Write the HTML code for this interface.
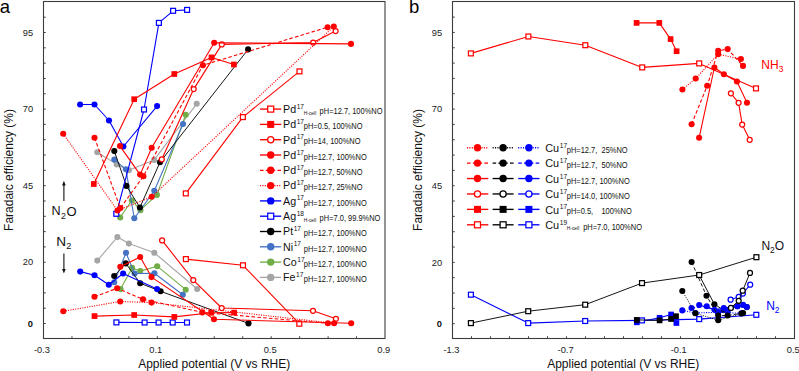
<!DOCTYPE html>
<html><head><meta charset="utf-8"><title>Faradaic efficiency</title>
<style>
html,body{margin:0;padding:0;background:#fff;}
body{width:799px;height:371px;overflow:hidden;}
svg{display:block;font-family:"Liberation Sans", sans-serif;}
</style></head>
<body>
<svg width="799" height="371" viewBox="0 0 799 371">
<rect width="799" height="371" fill="#fff"/>
<rect x="43.5" y="1.5" width="341.5" height="337" fill="none" stroke="#3c3c3c" stroke-width="1.1"/>
<path d="M43.5 323.5h2.2 M43.5 308.19h2.2 M43.5 292.87h2.2 M43.5 277.56h2.2 M43.5 262.24h2.2 M43.5 246.93h2.2 M43.5 231.61h2.2 M43.5 216.29h2.2 M43.5 200.98h2.2 M43.5 185.66h2.2 M43.5 170.35h2.2 M43.5 155.03h2.2 M43.5 139.72h2.2 M43.5 124.41h2.2 M43.5 109.09h2.2 M43.5 93.77h2.2 M43.5 78.46h2.2 M43.5 63.14h2.2 M43.5 47.83h2.2 M43.5 32.51h2.2 M43.5 17.2h2.2 M71.96 338.5v-2.2 M100.42 338.5v-2.2 M128.88 338.5v-2.2 M157.34 338.5v-2.2 M185.8 338.5v-2.2 M214.26 338.5v-2.2 M242.72 338.5v-2.2 M271.18 338.5v-2.2 M299.64 338.5v-2.2 M328.1 338.5v-2.2 M356.56 338.5v-2.2" stroke="#3c3c3c" stroke-width="1" fill="none"/>
<rect x="452.5" y="1.5" width="342" height="337" fill="none" stroke="#3c3c3c" stroke-width="1.1"/>
<path d="M452.5 323.7h2.2 M452.5 308.37h2.2 M452.5 293.04h2.2 M452.5 277.71h2.2 M452.5 262.38h2.2 M452.5 247.05h2.2 M452.5 231.72h2.2 M452.5 216.39h2.2 M452.5 201.06h2.2 M452.5 185.73h2.2 M452.5 170.4h2.2 M452.5 155.07h2.2 M452.5 139.74h2.2 M452.5 124.41h2.2 M452.5 109.08h2.2 M452.5 93.75h2.2 M452.5 78.42h2.2 M452.5 63.09h2.2 M452.5 47.76h2.2 M452.5 32.43h2.2 M452.5 17.1h2.2 M471.5 338.5v-2.2 M490.5 338.5v-2.2 M509.5 338.5v-2.2 M528.5 338.5v-2.2 M547.5 338.5v-2.2 M566.5 338.5v-2.2 M585.5 338.5v-2.2 M604.5 338.5v-2.2 M623.5 338.5v-2.2 M642.5 338.5v-2.2 M661.5 338.5v-2.2 M680.5 338.5v-2.2 M699.5 338.5v-2.2 M718.5 338.5v-2.2 M737.5 338.5v-2.2 M756.5 338.5v-2.2 M775.5 338.5v-2.2" stroke="#3c3c3c" stroke-width="1" fill="none"/>
<text x="33.2" y="35.71" font-size="9.3" text-anchor="end" fill="#222">95</text>
<text x="442.2" y="35.63" font-size="9.3" text-anchor="end" fill="#222">95</text>
<text x="33.2" y="112.29" font-size="9.3" text-anchor="end" fill="#222">70</text>
<text x="442.2" y="112.28" font-size="9.3" text-anchor="end" fill="#222">70</text>
<text x="33.2" y="188.86" font-size="9.3" text-anchor="end" fill="#222">45</text>
<text x="442.2" y="188.93" font-size="9.3" text-anchor="end" fill="#222">45</text>
<text x="33.2" y="265.44" font-size="9.3" text-anchor="end" fill="#222">20</text>
<text x="442.2" y="265.58" font-size="9.3" text-anchor="end" fill="#222">20</text>
<text x="33" y="326.7" font-size="9.3" text-anchor="end" fill="#111" font-weight="bold">0</text>
<text x="442" y="326.9" font-size="9.3" text-anchor="end" fill="#111" font-weight="bold">0</text>
<text x="42" y="352.8" font-size="9.3" text-anchor="middle" fill="#222">-0.3</text>
<text x="155.8" y="352.8" font-size="9.3" text-anchor="middle" fill="#222">0.1</text>
<text x="270.1" y="352.8" font-size="9.3" text-anchor="middle" fill="#222">0.5</text>
<text x="383.7" y="352.8" font-size="9.3" text-anchor="middle" fill="#222">0.9</text>
<text x="451.5" y="352.8" font-size="9.3" text-anchor="middle" fill="#222">-1.3</text>
<text x="565.6" y="352.8" font-size="9.3" text-anchor="middle" fill="#222">-0.7</text>
<text x="678.7" y="352.8" font-size="9.3" text-anchor="middle" fill="#222">-0.1</text>
<text x="793.2" y="352.8" font-size="9.3" text-anchor="middle" fill="#222">0.5</text>
<text x="214.2" y="368.2" font-size="12" text-anchor="middle" fill="#111">Applied potential (V vs RHE)</text>
<text x="623.2" y="368.2" font-size="12" text-anchor="middle" fill="#111">Applied potential (V vs RHE)</text>
<text x="0" y="0" font-size="12" text-anchor="middle" fill="#111" transform="translate(12.9,170) rotate(-90)">Faradaic efficiency (%)</text>
<text x="0" y="0" font-size="12" text-anchor="middle" fill="#111" transform="translate(421.9,170) rotate(-90)">Faradaic efficiency (%)</text>
<text x="-0.2" y="13.1" font-size="18.5" text-anchor="start" fill="#000">a</text>
<text x="409" y="13.1" font-size="18.5" text-anchor="start" fill="#000">b</text>
<polyline points="97.3,152.3 116.7,164.4 128.9,170.3 154.1,159.9 196.7,103.8" fill="none" stroke="#a5a5a5" stroke-width="1.1" stroke-linejoin="round"/>
<circle cx="97.3" cy="152.3" r="3.05" fill="#a5a5a5"/>
<circle cx="116.7" cy="164.4" r="3.05" fill="#a5a5a5"/>
<circle cx="128.9" cy="170.3" r="3.05" fill="#a5a5a5"/>
<circle cx="154.1" cy="159.9" r="3.05" fill="#a5a5a5"/>
<circle cx="196.7" cy="103.8" r="3.05" fill="#a5a5a5"/>
<polyline points="97.3,260.6 117.4,237.1 128.9,243.6 154.3,252.8 197.2,289" fill="none" stroke="#a5a5a5" stroke-width="1.1" stroke-linejoin="round"/>
<circle cx="97.3" cy="260.6" r="3.05" fill="#a5a5a5"/>
<circle cx="117.4" cy="237.1" r="3.05" fill="#a5a5a5"/>
<circle cx="128.9" cy="243.6" r="3.05" fill="#a5a5a5"/>
<circle cx="154.3" cy="252.8" r="3.05" fill="#a5a5a5"/>
<circle cx="197.2" cy="289" r="3.05" fill="#a5a5a5"/>
<polyline points="120.2,217.5 131.8,200.5 140.4,210.2 156.9,194.9 185.7,114.8" fill="none" stroke="#70ad47" stroke-width="1.1" stroke-linejoin="round"/>
<circle cx="120.2" cy="217.5" r="3.05" fill="#70ad47"/>
<circle cx="131.8" cy="200.5" r="3.05" fill="#70ad47"/>
<circle cx="140.4" cy="210.2" r="3.05" fill="#70ad47"/>
<circle cx="156.9" cy="194.9" r="3.05" fill="#70ad47"/>
<circle cx="185.7" cy="114.8" r="3.05" fill="#70ad47"/>
<polyline points="120.5,289.1 132.1,267.9 140.2,271.1 157.2,266.2 185.7,289.7" fill="none" stroke="#70ad47" stroke-width="1.1" stroke-linejoin="round"/>
<circle cx="120.5" cy="289.1" r="3.05" fill="#70ad47"/>
<circle cx="132.1" cy="267.9" r="3.05" fill="#70ad47"/>
<circle cx="140.2" cy="271.1" r="3.05" fill="#70ad47"/>
<circle cx="157.2" cy="266.2" r="3.05" fill="#70ad47"/>
<circle cx="185.7" cy="289.7" r="3.05" fill="#70ad47"/>
<polyline points="114.3,159.6 125.9,169.3 134.3,218.3 154.3,190.8 183,124" fill="none" stroke="#4472c4" stroke-width="1.1" stroke-linejoin="round"/>
<circle cx="114.3" cy="159.6" r="3.05" fill="#4472c4"/>
<circle cx="125.9" cy="169.3" r="3.05" fill="#4472c4"/>
<circle cx="134.3" cy="218.3" r="3.05" fill="#4472c4"/>
<circle cx="154.3" cy="190.8" r="3.05" fill="#4472c4"/>
<circle cx="183" cy="124" r="3.05" fill="#4472c4"/>
<polyline points="114.2,282.3 126,252.8 134.6,273.5 154.4,273.2 182.8,294.8" fill="none" stroke="#4472c4" stroke-width="1.1" stroke-linejoin="round"/>
<circle cx="114.2" cy="282.3" r="3.05" fill="#4472c4"/>
<circle cx="126" cy="252.8" r="3.05" fill="#4472c4"/>
<circle cx="134.6" cy="273.5" r="3.05" fill="#4472c4"/>
<circle cx="154.4" cy="273.2" r="3.05" fill="#4472c4"/>
<circle cx="182.8" cy="294.8" r="3.05" fill="#4472c4"/>
<polyline points="114.3,151.1 126.4,185.9 139.9,207.5 160,162.2 248.1,49.4" fill="none" stroke="#151515" stroke-width="1" stroke-linejoin="round"/>
<circle cx="114.3" cy="151.1" r="3.05" fill="#000000"/>
<circle cx="126.4" cy="185.9" r="3.05" fill="#000000"/>
<circle cx="139.9" cy="207.5" r="3.05" fill="#000000"/>
<circle cx="160" cy="162.2" r="3.05" fill="#000000"/>
<circle cx="248.1" cy="49.4" r="3.05" fill="#000000"/>
<polyline points="114.2,276 125.8,263.4 140.2,283.2 160.6,291.3 248.5,323.4" fill="none" stroke="#151515" stroke-width="1" stroke-linejoin="round"/>
<circle cx="114.2" cy="276" r="3.05" fill="#000000"/>
<circle cx="125.8" cy="263.4" r="3.05" fill="#000000"/>
<circle cx="140.2" cy="283.2" r="3.05" fill="#000000"/>
<circle cx="160.6" cy="291.3" r="3.05" fill="#000000"/>
<circle cx="248.5" cy="323.4" r="3.05" fill="#000000"/>
<polyline points="116.3,213.8 144,109.5 158.9,22.9 173.1,10.8 187.1,9.9" fill="none" stroke="#0000ff" stroke-width="1.1" stroke-linejoin="round"/>
<rect x="113.85" y="211.35" width="4.9" height="4.9" fill="#fff" stroke="#0000ff" stroke-width="1.25"/>
<rect x="141.55" y="107.05" width="4.9" height="4.9" fill="#fff" stroke="#0000ff" stroke-width="1.25"/>
<rect x="156.45" y="20.45" width="4.9" height="4.9" fill="#fff" stroke="#0000ff" stroke-width="1.25"/>
<rect x="170.65" y="8.35" width="4.9" height="4.9" fill="#fff" stroke="#0000ff" stroke-width="1.25"/>
<rect x="184.65" y="7.45" width="4.9" height="4.9" fill="#fff" stroke="#0000ff" stroke-width="1.25"/>
<polyline points="116.4,322.4 144.6,322.5 158.6,322.5 172.7,322.5 187,322.5" fill="none" stroke="#0000ff" stroke-width="1.1" stroke-linejoin="round"/>
<rect x="113.95" y="319.95" width="4.9" height="4.9" fill="#fff" stroke="#0000ff" stroke-width="1.25"/>
<rect x="142.15" y="320.05" width="4.9" height="4.9" fill="#fff" stroke="#0000ff" stroke-width="1.25"/>
<rect x="156.15" y="320.05" width="4.9" height="4.9" fill="#fff" stroke="#0000ff" stroke-width="1.25"/>
<rect x="170.25" y="320.05" width="4.9" height="4.9" fill="#fff" stroke="#0000ff" stroke-width="1.25"/>
<rect x="184.55" y="320.05" width="4.9" height="4.9" fill="#fff" stroke="#0000ff" stroke-width="1.25"/>
<polyline points="80.1,104.5 94.5,104.5 109,120.5 123.4,146.5 157.1,106.1" fill="none" stroke="#0000ff" stroke-width="1.1" stroke-linejoin="round"/>
<circle cx="80.1" cy="104.5" r="3.05" fill="#0000ff"/>
<circle cx="94.5" cy="104.5" r="3.05" fill="#0000ff"/>
<circle cx="109" cy="120.5" r="3.05" fill="#0000ff"/>
<circle cx="123.4" cy="146.5" r="3.05" fill="#0000ff"/>
<circle cx="157.1" cy="106.1" r="3.05" fill="#0000ff"/>
<polyline points="80.2,271.6 94.5,275.2 108.8,284.7 123.1,273.5 157,289.1" fill="none" stroke="#0000ff" stroke-width="1.1" stroke-linejoin="round"/>
<circle cx="80.2" cy="271.6" r="3.05" fill="#0000ff"/>
<circle cx="94.5" cy="275.2" r="3.05" fill="#0000ff"/>
<circle cx="108.8" cy="284.7" r="3.05" fill="#0000ff"/>
<circle cx="123.1" cy="273.5" r="3.05" fill="#0000ff"/>
<circle cx="157" cy="289.1" r="3.05" fill="#0000ff"/>
<polyline points="185.8,193.4 242.9,117.1 299.5,71.4" fill="none" stroke="#ff0000" stroke-width="1.1" stroke-linejoin="round"/>
<rect x="183.35" y="190.95" width="4.9" height="4.9" fill="#fff" stroke="#ff0000" stroke-width="1.25"/>
<rect x="240.45" y="114.65" width="4.9" height="4.9" fill="#fff" stroke="#ff0000" stroke-width="1.25"/>
<rect x="297.05" y="68.95" width="4.9" height="4.9" fill="#fff" stroke="#ff0000" stroke-width="1.25"/>
<polyline points="185.9,259.1 243,265.3 299.3,323.7" fill="none" stroke="#ff0000" stroke-width="1.1" stroke-linejoin="round"/>
<rect x="183.45" y="256.65" width="4.9" height="4.9" fill="#fff" stroke="#ff0000" stroke-width="1.25"/>
<rect x="240.55" y="262.85" width="4.9" height="4.9" fill="#fff" stroke="#ff0000" stroke-width="1.25"/>
<rect x="296.85" y="321.25" width="4.9" height="4.9" fill="#fff" stroke="#ff0000" stroke-width="1.25"/>
<polyline points="93.8,184 134.2,99.2 174.3,74 211.5,57.4 233.9,64.5" fill="none" stroke="#ff0000" stroke-width="1.1" stroke-linejoin="round"/>
<rect x="90.95" y="181.15" width="5.7" height="5.7" fill="#ff0000"/>
<rect x="131.35" y="96.35" width="5.7" height="5.7" fill="#ff0000"/>
<rect x="171.45" y="71.15" width="5.7" height="5.7" fill="#ff0000"/>
<rect x="208.65" y="54.55" width="5.7" height="5.7" fill="#ff0000"/>
<rect x="231.05" y="61.65" width="5.7" height="5.7" fill="#ff0000"/>
<polyline points="94.5,316.1 134.2,315 174.3,316.9 211.2,312.8 234.1,312.6" fill="none" stroke="#ff0000" stroke-width="1.1" stroke-linejoin="round"/>
<rect x="91.65" y="313.25" width="5.7" height="5.7" fill="#ff0000"/>
<rect x="131.35" y="312.15" width="5.7" height="5.7" fill="#ff0000"/>
<rect x="171.45" y="314.05" width="5.7" height="5.7" fill="#ff0000"/>
<rect x="208.35" y="309.95" width="5.7" height="5.7" fill="#ff0000"/>
<rect x="231.25" y="309.75" width="5.7" height="5.7" fill="#ff0000"/>
<polyline points="161.8,159.3 193.7,89.1 221.8,44.4 313.2,42.5 335.6,31.1" fill="none" stroke="#ff0000" stroke-width="1.1" stroke-linejoin="round"/>
<circle cx="161.8" cy="159.3" r="2.5" fill="#fff" stroke="#ff0000" stroke-width="1.25"/>
<circle cx="193.7" cy="89.1" r="2.5" fill="#fff" stroke="#ff0000" stroke-width="1.25"/>
<circle cx="221.8" cy="44.4" r="2.5" fill="#fff" stroke="#ff0000" stroke-width="1.25"/>
<circle cx="313.2" cy="42.5" r="2.5" fill="#fff" stroke="#ff0000" stroke-width="1.25"/>
<circle cx="335.6" cy="31.1" r="2.5" fill="#fff" stroke="#ff0000" stroke-width="1.25"/>
<polyline points="162.1,240.4 193.3,280.1 221.7,308 313,310.8 335.9,318.8" fill="none" stroke="#ff0000" stroke-width="1.1" stroke-linejoin="round"/>
<circle cx="162.1" cy="240.4" r="2.5" fill="#fff" stroke="#ff0000" stroke-width="1.25"/>
<circle cx="193.3" cy="280.1" r="2.5" fill="#fff" stroke="#ff0000" stroke-width="1.25"/>
<circle cx="221.7" cy="308" r="2.5" fill="#fff" stroke="#ff0000" stroke-width="1.25"/>
<circle cx="313" cy="310.8" r="2.5" fill="#fff" stroke="#ff0000" stroke-width="1.25"/>
<circle cx="335.9" cy="318.8" r="2.5" fill="#fff" stroke="#ff0000" stroke-width="1.25"/>
<polyline points="63.2,133.8 117.5,210.5 151.7,196.8 333.8,26.5" fill="none" stroke="#ff0000" stroke-width="1.1" stroke-dasharray="1.1,1.3" stroke-linejoin="round"/>
<circle cx="63.2" cy="133.8" r="3.05" fill="#ff0000"/>
<circle cx="117.5" cy="210.5" r="3.05" fill="#ff0000"/>
<circle cx="151.7" cy="196.8" r="3.05" fill="#ff0000"/>
<circle cx="333.8" cy="26.5" r="3.05" fill="#ff0000"/>
<polyline points="63.3,311.2 120.2,301.5 151.5,302.6 334.1,323.3" fill="none" stroke="#ff0000" stroke-width="1.1" stroke-dasharray="1.1,1.3" stroke-linejoin="round"/>
<circle cx="63.3" cy="311.2" r="3.05" fill="#ff0000"/>
<circle cx="120.2" cy="301.5" r="3.05" fill="#ff0000"/>
<circle cx="151.5" cy="302.6" r="3.05" fill="#ff0000"/>
<circle cx="334.1" cy="323.3" r="3.05" fill="#ff0000"/>
<polyline points="94.5,137.7 120.4,208.1 143.4,176.2 202.9,65.3 327.6,27.2" fill="none" stroke="#ff0000" stroke-width="1.1" stroke-dasharray="3.6,2.2" stroke-linejoin="round"/>
<circle cx="94.5" cy="137.7" r="3.05" fill="#ff0000"/>
<circle cx="120.4" cy="208.1" r="3.05" fill="#ff0000"/>
<circle cx="143.4" cy="176.2" r="3.05" fill="#ff0000"/>
<circle cx="202.9" cy="65.3" r="3.05" fill="#ff0000"/>
<circle cx="327.6" cy="27.2" r="3.05" fill="#ff0000"/>
<polyline points="94.5,296.7 117.1,288.3 143,299.3 202.3,312.4 327.9,323.3" fill="none" stroke="#ff0000" stroke-width="1.1" stroke-dasharray="3.6,2.2" stroke-linejoin="round"/>
<circle cx="94.5" cy="296.7" r="3.05" fill="#ff0000"/>
<circle cx="117.1" cy="288.3" r="3.05" fill="#ff0000"/>
<circle cx="143" cy="299.3" r="3.05" fill="#ff0000"/>
<circle cx="202.3" cy="312.4" r="3.05" fill="#ff0000"/>
<circle cx="327.9" cy="323.3" r="3.05" fill="#ff0000"/>
<polyline points="120,146.1 140.1,174.6 151.7,147.8 214.2,42.8 351,43.9" fill="none" stroke="#ff0000" stroke-width="1.1" stroke-linejoin="round"/>
<circle cx="120" cy="146.1" r="3.05" fill="#ff0000"/>
<circle cx="140.1" cy="174.6" r="3.05" fill="#ff0000"/>
<circle cx="151.7" cy="147.8" r="3.05" fill="#ff0000"/>
<circle cx="214.2" cy="42.8" r="3.05" fill="#ff0000"/>
<circle cx="351" cy="43.9" r="3.05" fill="#ff0000"/>
<polyline points="120.3,266.7 140.2,257 151.5,277.1 214,319.3 351.2,323.3" fill="none" stroke="#ff0000" stroke-width="1.1" stroke-linejoin="round"/>
<circle cx="120.3" cy="266.7" r="3.05" fill="#ff0000"/>
<circle cx="140.2" cy="257" r="3.05" fill="#ff0000"/>
<circle cx="151.5" cy="277.1" r="3.05" fill="#ff0000"/>
<circle cx="214" cy="319.3" r="3.05" fill="#ff0000"/>
<circle cx="351.2" cy="323.3" r="3.05" fill="#ff0000"/>
<path d="M63.9 201 V184.5" stroke="#111" stroke-width="1.1" fill="none"/>
<path d="M62.1 185.6 L63.9 180.8 L65.7 185.6 Z" fill="#111"/>
<path d="M63.9 253.5 V270" stroke="#111" stroke-width="1.1" fill="none"/>
<path d="M62.1 269 L63.9 273.6 L65.7 269 Z" fill="#111"/>
<text x="51.6" y="215.4" font-size="12.6" text-anchor="start" fill="#111">N</text>
<text x="61" y="219.2" font-size="8.8" text-anchor="start" fill="#111">2</text>
<text x="66.4" y="216" font-size="13" text-anchor="start" fill="#111">O</text>
<text x="56.3" y="246.4" font-size="13.6" text-anchor="start" fill="#111">N</text>
<text x="66.2" y="249.2" font-size="9.2" text-anchor="start" fill="#111">2</text>
<polyline points="260,109.1 281.2,109.1" fill="none" stroke="#ff0000" stroke-width="1.35" stroke-linejoin="round"/>
<rect x="267.7" y="106.1" width="6" height="6" fill="#fff" stroke="#ff0000" stroke-width="1.25"/>
<text x="283" y="112.9" font-size="10.7" text-anchor="start" fill="#111">Pd</text>
<text x="296.69" y="108.6" font-size="6.6" text-anchor="start" fill="#111">17</text>
<text transform="translate(303.8,114.5) scale(0.92,1)" font-size="5.3" fill="#111">H-cell</text>
<text transform="translate(319.6,113.8) scale(0.87,1)" font-size="8.6" fill="#111">pH=12.7, 100%NO</text>
<polyline points="260,124.4 281.2,124.4" fill="none" stroke="#ff0000" stroke-width="1.35" stroke-linejoin="round"/>
<rect x="267.2" y="120.9" width="7" height="7" fill="#ff0000"/>
<text x="283" y="128.2" font-size="10.7" text-anchor="start" fill="#111">Pd</text>
<text x="296.69" y="123.9" font-size="6.6" text-anchor="start" fill="#111">17</text>
<text transform="translate(303.8,129.1) scale(0.87,1)" font-size="8.6" fill="#111">pH=0.5, 100%NO</text>
<polyline points="260,139.7 281.2,139.7" fill="none" stroke="#ff0000" stroke-width="1.35" stroke-linejoin="round"/>
<circle cx="270.7" cy="139.7" r="3.1" fill="#fff" stroke="#ff0000" stroke-width="1.25"/>
<text x="283" y="143.5" font-size="10.7" text-anchor="start" fill="#111">Pd</text>
<text x="296.69" y="139.2" font-size="6.6" text-anchor="start" fill="#111">17</text>
<text transform="translate(303.8,144.4) scale(0.87,1)" font-size="8.6" fill="#111">pH=14, 100%NO</text>
<polyline points="260,155 281.2,155" fill="none" stroke="#ff0000" stroke-width="1.35" stroke-linejoin="round"/>
<circle cx="270.7" cy="155" r="3.7" fill="#ff0000"/>
<text x="283" y="158.8" font-size="10.7" text-anchor="start" fill="#111">Pd</text>
<text x="296.69" y="154.5" font-size="6.6" text-anchor="start" fill="#111">17</text>
<text transform="translate(303.8,159.7) scale(0.87,1)" font-size="8.6" fill="#111">pH=12.7, 100%NO</text>
<polyline points="260,170.3 281.2,170.3" fill="none" stroke="#ff0000" stroke-width="1.35" stroke-dasharray="3.6,2.2" stroke-linejoin="round"/>
<circle cx="270.7" cy="170.3" r="3.7" fill="#ff0000"/>
<text x="283" y="174.1" font-size="10.7" text-anchor="start" fill="#111">Pd</text>
<text x="296.69" y="169.8" font-size="6.6" text-anchor="start" fill="#111">17</text>
<text transform="translate(303.8,175) scale(0.87,1)" font-size="8.6" fill="#111">pH=12.7, 50%NO</text>
<polyline points="260,185.6 281.2,185.6" fill="none" stroke="#ff0000" stroke-width="1.35" stroke-dasharray="1.1,1.3" stroke-linejoin="round"/>
<circle cx="270.7" cy="185.6" r="3.7" fill="#ff0000"/>
<text x="283" y="189.4" font-size="10.7" text-anchor="start" fill="#111">Pd</text>
<text x="296.69" y="185.1" font-size="6.6" text-anchor="start" fill="#111">17</text>
<text transform="translate(303.8,190.3) scale(0.87,1)" font-size="8.6" fill="#111">pH=12.7, 25%NO</text>
<polyline points="260,200.9 281.2,200.9" fill="none" stroke="#0000ff" stroke-width="1.35" stroke-linejoin="round"/>
<circle cx="270.7" cy="200.9" r="3.7" fill="#0000ff"/>
<text x="283" y="204.7" font-size="10.7" text-anchor="start" fill="#111">Ag</text>
<text x="296.69" y="200.4" font-size="6.6" text-anchor="start" fill="#111">17</text>
<text transform="translate(303.8,205.6) scale(0.87,1)" font-size="8.6" fill="#111">pH=12.7, 100%NO</text>
<polyline points="260,216.2 281.2,216.2" fill="none" stroke="#0000ff" stroke-width="1.35" stroke-linejoin="round"/>
<rect x="267.7" y="213.2" width="6" height="6" fill="#fff" stroke="#0000ff" stroke-width="1.25"/>
<text x="283" y="220" font-size="10.7" text-anchor="start" fill="#111">Ag</text>
<text x="296.69" y="215.7" font-size="6.6" text-anchor="start" fill="#111">18</text>
<text transform="translate(303.8,221.6) scale(0.92,1)" font-size="5.3" fill="#111">H-cell</text>
<text transform="translate(319.6,220.9) scale(0.87,1)" font-size="8.6" fill="#111">pH=7.0, 99.9%NO</text>
<polyline points="260,231.5 281.2,231.5" fill="none" stroke="#000000" stroke-width="1.35" stroke-linejoin="round"/>
<circle cx="270.7" cy="231.5" r="3.7" fill="#000000"/>
<text x="283" y="235.3" font-size="10.7" text-anchor="start" fill="#111">Pt</text>
<text x="293.71" y="231" font-size="6.6" text-anchor="start" fill="#111">17</text>
<text transform="translate(303.8,236.2) scale(0.87,1)" font-size="8.6" fill="#111">pH=12.7, 100%NO</text>
<polyline points="260,246.8 281.2,246.8" fill="none" stroke="#4472c4" stroke-width="1.35" stroke-linejoin="round"/>
<circle cx="270.7" cy="246.8" r="3.7" fill="#4472c4"/>
<text x="283" y="250.6" font-size="10.7" text-anchor="start" fill="#111">Ni</text>
<text x="293.7" y="246.3" font-size="6.6" text-anchor="start" fill="#111">17</text>
<text transform="translate(303.8,251.5) scale(0.87,1)" font-size="8.6" fill="#111">pH=12.7, 100%NO</text>
<polyline points="260,262.1 281.2,262.1" fill="none" stroke="#70ad47" stroke-width="1.35" stroke-linejoin="round"/>
<circle cx="270.7" cy="262.1" r="3.7" fill="#70ad47"/>
<text x="283" y="265.9" font-size="10.7" text-anchor="start" fill="#111">Co</text>
<text x="297.27" y="261.6" font-size="6.6" text-anchor="start" fill="#111">17</text>
<text transform="translate(303.8,266.8) scale(0.87,1)" font-size="8.6" fill="#111">pH=12.7, 100%NO</text>
<polyline points="260,277.4 281.2,277.4" fill="none" stroke="#a5a5a5" stroke-width="1.35" stroke-linejoin="round"/>
<circle cx="270.7" cy="277.4" r="3.7" fill="#a5a5a5"/>
<text x="283" y="281.2" font-size="10.7" text-anchor="start" fill="#111">Fe</text>
<text x="296.09" y="276.9" font-size="6.6" text-anchor="start" fill="#111">17</text>
<text transform="translate(303.8,282.1) scale(0.87,1)" font-size="8.6" fill="#111">pH=12.7, 100%NO</text>
<polyline points="636.6,22.9 659.3,22.9 670.6,39.1 676.6,51.2" fill="none" stroke="#ff0000" stroke-width="1.1" stroke-linejoin="round"/>
<rect x="633.75" y="20.05" width="5.7" height="5.7" fill="#ff0000"/>
<rect x="656.45" y="20.05" width="5.7" height="5.7" fill="#ff0000"/>
<rect x="667.75" y="36.25" width="5.7" height="5.7" fill="#ff0000"/>
<rect x="673.75" y="48.35" width="5.7" height="5.7" fill="#ff0000"/>
<polyline points="699.1,137.8 714.4,67.5 723.9,74.3 736.9,81.5 747,102.8" fill="none" stroke="#ff0000" stroke-width="1.1" stroke-linejoin="round"/>
<circle cx="699.1" cy="137.8" r="3.05" fill="#ff0000"/>
<circle cx="714.4" cy="67.5" r="3.05" fill="#ff0000"/>
<circle cx="723.9" cy="74.3" r="3.05" fill="#ff0000"/>
<circle cx="736.9" cy="81.5" r="3.05" fill="#ff0000"/>
<circle cx="747" cy="102.8" r="3.05" fill="#ff0000"/>
<polyline points="691.6,124.2 707.2,85.8 718.2,50.8 727.7,49.1 743,65.9" fill="none" stroke="#ff0000" stroke-width="1.1" stroke-dasharray="3.6,2.2" stroke-linejoin="round"/>
<circle cx="691.6" cy="124.2" r="3.05" fill="#ff0000"/>
<circle cx="707.2" cy="85.8" r="3.05" fill="#ff0000"/>
<circle cx="718.2" cy="50.8" r="3.05" fill="#ff0000"/>
<circle cx="727.7" cy="49.1" r="3.05" fill="#ff0000"/>
<circle cx="743" cy="65.9" r="3.05" fill="#ff0000"/>
<polyline points="682.4,89.5 695.7,78.5 718.2,54.2 740.9,59" fill="none" stroke="#ff0000" stroke-width="1.1" stroke-dasharray="1.1,1.3" stroke-linejoin="round"/>
<circle cx="682.4" cy="89.5" r="3.05" fill="#ff0000"/>
<circle cx="695.7" cy="78.5" r="3.05" fill="#ff0000"/>
<circle cx="718.2" cy="54.2" r="3.05" fill="#ff0000"/>
<circle cx="740.9" cy="59" r="3.05" fill="#ff0000"/>
<polyline points="730.9,93.3 738.6,102.8 742.2,124.6 749.7,139.8" fill="none" stroke="#ff0000" stroke-width="1.1" stroke-linejoin="round"/>
<circle cx="730.9" cy="93.3" r="2.5" fill="#fff" stroke="#ff0000" stroke-width="1.25"/>
<circle cx="738.6" cy="102.8" r="2.5" fill="#fff" stroke="#ff0000" stroke-width="1.25"/>
<circle cx="742.2" cy="124.6" r="2.5" fill="#fff" stroke="#ff0000" stroke-width="1.25"/>
<circle cx="749.7" cy="139.8" r="2.5" fill="#fff" stroke="#ff0000" stroke-width="1.25"/>
<polyline points="470.9,53.4 528.4,36.5 585.3,45.2 642.2,67.4 699.2,63.4 756,88.4" fill="none" stroke="#ff0000" stroke-width="1.1" stroke-linejoin="round"/>
<rect x="468.45" y="50.95" width="4.9" height="4.9" fill="#fff" stroke="#ff0000" stroke-width="1.25"/>
<rect x="525.95" y="34.05" width="4.9" height="4.9" fill="#fff" stroke="#ff0000" stroke-width="1.25"/>
<rect x="582.85" y="42.75" width="4.9" height="4.9" fill="#fff" stroke="#ff0000" stroke-width="1.25"/>
<rect x="639.75" y="64.95" width="4.9" height="4.9" fill="#fff" stroke="#ff0000" stroke-width="1.25"/>
<rect x="696.75" y="60.95" width="4.9" height="4.9" fill="#fff" stroke="#ff0000" stroke-width="1.25"/>
<rect x="753.55" y="85.95" width="4.9" height="4.9" fill="#fff" stroke="#ff0000" stroke-width="1.25"/>
<polyline points="699.1,275 714.4,304.2 723.4,310.1 737.4,306.3 746.8,307.1" fill="none" stroke="#151515" stroke-width="1" stroke-linejoin="round"/>
<circle cx="699.1" cy="275" r="3.05" fill="#000000"/>
<circle cx="714.4" cy="304.2" r="3.05" fill="#000000"/>
<circle cx="723.4" cy="310.1" r="3.05" fill="#000000"/>
<circle cx="737.4" cy="306.3" r="3.05" fill="#000000"/>
<circle cx="746.8" cy="307.1" r="3.05" fill="#000000"/>
<polyline points="636.8,322.3 659.6,317.8 671.1,314.5 676.4,323" fill="none" stroke="#0000ff" stroke-width="1.1" stroke-linejoin="round"/>
<rect x="633.95" y="319.45" width="5.7" height="5.7" fill="#0000ff"/>
<rect x="656.75" y="314.95" width="5.7" height="5.7" fill="#0000ff"/>
<rect x="668.25" y="311.65" width="5.7" height="5.7" fill="#0000ff"/>
<rect x="673.55" y="320.15" width="5.7" height="5.7" fill="#0000ff"/>
<polyline points="699.2,305 714.5,309.7 723.8,308.1 737.4,306.2 746.8,307" fill="none" stroke="#0000ff" stroke-width="1.1" stroke-linejoin="round"/>
<circle cx="699.2" cy="305" r="3.05" fill="#0000ff"/>
<circle cx="714.5" cy="309.7" r="3.05" fill="#0000ff"/>
<circle cx="723.8" cy="308.1" r="3.05" fill="#0000ff"/>
<circle cx="737.4" cy="306.2" r="3.05" fill="#0000ff"/>
<circle cx="746.8" cy="307" r="3.05" fill="#0000ff"/>
<polyline points="691.5,308 706.7,306.3 717.7,312.2 727.6,311.2 743.1,304.9" fill="none" stroke="#0000ff" stroke-width="1.1" stroke-dasharray="3.6,2.2" stroke-linejoin="round"/>
<circle cx="691.5" cy="308" r="3.05" fill="#0000ff"/>
<circle cx="706.7" cy="306.3" r="3.05" fill="#0000ff"/>
<circle cx="717.7" cy="312.2" r="3.05" fill="#0000ff"/>
<circle cx="727.6" cy="311.2" r="3.05" fill="#0000ff"/>
<circle cx="743.1" cy="304.9" r="3.05" fill="#0000ff"/>
<polyline points="682.3,310.4 695.4,313 718.2,312.3 741.4,313.3" fill="none" stroke="#0000ff" stroke-width="1.1" stroke-dasharray="1.1,1.3" stroke-linejoin="round"/>
<circle cx="682.3" cy="310.4" r="3.05" fill="#0000ff"/>
<circle cx="695.4" cy="313" r="3.05" fill="#0000ff"/>
<circle cx="718.2" cy="312.3" r="3.05" fill="#0000ff"/>
<circle cx="741.4" cy="313.3" r="3.05" fill="#0000ff"/>
<polyline points="730.6,299.7 738.7,296.8 742.9,293.5 750.2,284.7" fill="none" stroke="#0000ff" stroke-width="1.1" stroke-linejoin="round"/>
<circle cx="730.6" cy="299.7" r="2.5" fill="#fff" stroke="#0000ff" stroke-width="1.25"/>
<circle cx="738.7" cy="296.8" r="2.5" fill="#fff" stroke="#0000ff" stroke-width="1.25"/>
<circle cx="742.9" cy="293.5" r="2.5" fill="#fff" stroke="#0000ff" stroke-width="1.25"/>
<circle cx="750.2" cy="284.7" r="2.5" fill="#fff" stroke="#0000ff" stroke-width="1.25"/>
<polyline points="470.9,294.7 528.2,323.1 585.2,321 642,320.4 699.2,319.1 756.3,314.8" fill="none" stroke="#0000ff" stroke-width="1.1" stroke-linejoin="round"/>
<rect x="468.45" y="292.25" width="4.9" height="4.9" fill="#fff" stroke="#0000ff" stroke-width="1.25"/>
<rect x="525.75" y="320.65" width="4.9" height="4.9" fill="#fff" stroke="#0000ff" stroke-width="1.25"/>
<rect x="582.75" y="318.55" width="4.9" height="4.9" fill="#fff" stroke="#0000ff" stroke-width="1.25"/>
<rect x="639.55" y="317.95" width="4.9" height="4.9" fill="#fff" stroke="#0000ff" stroke-width="1.25"/>
<rect x="696.75" y="316.65" width="4.9" height="4.9" fill="#fff" stroke="#0000ff" stroke-width="1.25"/>
<rect x="753.85" y="312.35" width="4.9" height="4.9" fill="#fff" stroke="#0000ff" stroke-width="1.25"/>
<polyline points="636.8,319.9 659.6,320.4 671.1,319 676,316.2" fill="none" stroke="#151515" stroke-width="1" stroke-linejoin="round"/>
<rect x="633.95" y="317.05" width="5.7" height="5.7" fill="#000000"/>
<rect x="656.75" y="317.55" width="5.7" height="5.7" fill="#000000"/>
<rect x="668.25" y="316.15" width="5.7" height="5.7" fill="#000000"/>
<rect x="673.15" y="313.35" width="5.7" height="5.7" fill="#000000"/>
<polyline points="691.6,262 706.5,295.8 718.2,315.5 727.6,315.5 743.1,313.1" fill="none" stroke="#151515" stroke-width="1" stroke-dasharray="3.6,2.2" stroke-linejoin="round"/>
<circle cx="691.6" cy="262" r="3.05" fill="#000000"/>
<circle cx="706.5" cy="295.8" r="3.05" fill="#000000"/>
<circle cx="718.2" cy="315.5" r="3.05" fill="#000000"/>
<circle cx="727.6" cy="315.5" r="3.05" fill="#000000"/>
<circle cx="743.1" cy="313.1" r="3.05" fill="#000000"/>
<polyline points="682.3,291 695.4,313.3 718.2,320.2 741.4,313.5" fill="none" stroke="#151515" stroke-width="1" stroke-dasharray="1.1,1.3" stroke-linejoin="round"/>
<circle cx="682.3" cy="291" r="3.05" fill="#000000"/>
<circle cx="695.4" cy="313.3" r="3.05" fill="#000000"/>
<circle cx="718.2" cy="320.2" r="3.05" fill="#000000"/>
<circle cx="741.4" cy="313.5" r="3.05" fill="#000000"/>
<polyline points="730.9,307.9 738.7,300.8 742.7,290.7 750,272.9" fill="none" stroke="#151515" stroke-width="1" stroke-linejoin="round"/>
<circle cx="730.9" cy="307.9" r="2.5" fill="#fff" stroke="#000000" stroke-width="1.25"/>
<circle cx="738.7" cy="300.8" r="2.5" fill="#fff" stroke="#000000" stroke-width="1.25"/>
<circle cx="742.7" cy="290.7" r="2.5" fill="#fff" stroke="#000000" stroke-width="1.25"/>
<circle cx="750" cy="272.9" r="2.5" fill="#fff" stroke="#000000" stroke-width="1.25"/>
<polyline points="470.9,323.1 528.2,311.2 585.2,304.7 642,283.1 699.2,275 756.4,257.2" fill="none" stroke="#151515" stroke-width="1" stroke-linejoin="round"/>
<rect x="468.45" y="320.65" width="4.9" height="4.9" fill="#fff" stroke="#000000" stroke-width="1.25"/>
<rect x="525.75" y="308.75" width="4.9" height="4.9" fill="#fff" stroke="#000000" stroke-width="1.25"/>
<rect x="582.75" y="302.25" width="4.9" height="4.9" fill="#fff" stroke="#000000" stroke-width="1.25"/>
<rect x="639.55" y="280.65" width="4.9" height="4.9" fill="#fff" stroke="#000000" stroke-width="1.25"/>
<rect x="696.75" y="272.55" width="4.9" height="4.9" fill="#fff" stroke="#000000" stroke-width="1.25"/>
<rect x="753.95" y="254.75" width="4.9" height="4.9" fill="#fff" stroke="#000000" stroke-width="1.25"/>
<text x="761.3" y="69.1" font-size="12" text-anchor="start" fill="#ff0000">NH<tspan font-size="8.4" dy="3.2">3</tspan></text>
<text x="761.4" y="249.8" font-size="12" text-anchor="start" fill="#111">N<tspan font-size="8.4" dy="3.2">2</tspan><tspan dy="-3.2">O</tspan></text>
<text x="766.2" y="309.8" font-size="12" text-anchor="start" fill="#0000ff">N<tspan font-size="8.4" dy="3.2">2</tspan></text>
<polyline points="467,147.7 488.3,147.7" fill="none" stroke="#ff0000" stroke-width="1.35" stroke-dasharray="1.1,1.3" stroke-linejoin="round"/>
<circle cx="477.5" cy="147.7" r="3.7" fill="#ff0000"/>
<polyline points="492.6,147.7 513.6,147.7" fill="none" stroke="#000000" stroke-width="1.35" stroke-dasharray="1.1,1.3" stroke-linejoin="round"/>
<circle cx="503.1" cy="147.7" r="3.7" fill="#000000"/>
<polyline points="518.2,147.7 539.5,147.7" fill="none" stroke="#0000ff" stroke-width="1.35" stroke-dasharray="1.1,1.3" stroke-linejoin="round"/>
<circle cx="528.9" cy="147.7" r="3.7" fill="#0000ff"/>
<text x="545.2" y="152" font-size="10.9" text-anchor="start" fill="#111">Cu</text>
<text x="559.8" y="147.8" font-size="6.6" text-anchor="start" fill="#111">17</text>
<text transform="translate(566.8,152.7) scale(0.87,1)" font-size="8.6" fill="#111">pH=12.7,  25%NO</text>
<polyline points="467,163.12 488.3,163.12" fill="none" stroke="#ff0000" stroke-width="1.35" stroke-dasharray="3.6,2.2" stroke-linejoin="round"/>
<circle cx="477.5" cy="163.12" r="3.7" fill="#ff0000"/>
<polyline points="492.6,163.12 513.6,163.12" fill="none" stroke="#000000" stroke-width="1.35" stroke-dasharray="3.6,2.2" stroke-linejoin="round"/>
<circle cx="503.1" cy="163.12" r="3.7" fill="#000000"/>
<polyline points="518.2,163.12 539.5,163.12" fill="none" stroke="#0000ff" stroke-width="1.35" stroke-dasharray="3.6,2.2" stroke-linejoin="round"/>
<circle cx="528.9" cy="163.12" r="3.7" fill="#0000ff"/>
<text x="545.2" y="167.42" font-size="10.9" text-anchor="start" fill="#111">Cu</text>
<text x="559.8" y="163.22" font-size="6.6" text-anchor="start" fill="#111">17</text>
<text transform="translate(566.8,168.12) scale(0.87,1)" font-size="8.6" fill="#111">pH=12.7,  50%NO</text>
<polyline points="467,178.54 488.3,178.54" fill="none" stroke="#ff0000" stroke-width="1.35" stroke-linejoin="round"/>
<circle cx="477.5" cy="178.54" r="3.7" fill="#ff0000"/>
<polyline points="492.6,178.54 513.6,178.54" fill="none" stroke="#000000" stroke-width="1.35" stroke-linejoin="round"/>
<circle cx="503.1" cy="178.54" r="3.7" fill="#000000"/>
<polyline points="518.2,178.54 539.5,178.54" fill="none" stroke="#0000ff" stroke-width="1.35" stroke-linejoin="round"/>
<circle cx="528.9" cy="178.54" r="3.7" fill="#0000ff"/>
<text x="545.2" y="182.84" font-size="10.9" text-anchor="start" fill="#111">Cu</text>
<text x="559.8" y="178.64" font-size="6.6" text-anchor="start" fill="#111">17</text>
<text transform="translate(566.8,183.54) scale(0.87,1)" font-size="8.6" fill="#111">pH=12.7, 100%NO</text>
<polyline points="467,193.96 488.3,193.96" fill="none" stroke="#ff0000" stroke-width="1.35" stroke-linejoin="round"/>
<circle cx="477.5" cy="193.96" r="3.1" fill="#fff" stroke="#ff0000" stroke-width="1.25"/>
<polyline points="492.6,193.96 513.6,193.96" fill="none" stroke="#000000" stroke-width="1.35" stroke-linejoin="round"/>
<circle cx="503.1" cy="193.96" r="3.1" fill="#fff" stroke="#000000" stroke-width="1.25"/>
<polyline points="518.2,193.96 539.5,193.96" fill="none" stroke="#0000ff" stroke-width="1.35" stroke-linejoin="round"/>
<circle cx="528.9" cy="193.96" r="3.1" fill="#fff" stroke="#0000ff" stroke-width="1.25"/>
<text x="545.2" y="198.26" font-size="10.9" text-anchor="start" fill="#111">Cu</text>
<text x="559.8" y="194.06" font-size="6.6" text-anchor="start" fill="#111">17</text>
<text transform="translate(566.8,198.96) scale(0.87,1)" font-size="8.6" fill="#111">pH=14.0, 100%NO</text>
<polyline points="467,209.38 488.3,209.38" fill="none" stroke="#ff0000" stroke-width="1.35" stroke-linejoin="round"/>
<rect x="474" y="205.88" width="7" height="7" fill="#ff0000"/>
<polyline points="492.6,209.38 513.6,209.38" fill="none" stroke="#000000" stroke-width="1.35" stroke-linejoin="round"/>
<rect x="499.6" y="205.88" width="7" height="7" fill="#000000"/>
<polyline points="518.2,209.38 539.5,209.38" fill="none" stroke="#0000ff" stroke-width="1.35" stroke-linejoin="round"/>
<rect x="525.4" y="205.88" width="7" height="7" fill="#0000ff"/>
<text x="545.2" y="213.68" font-size="10.9" text-anchor="start" fill="#111">Cu</text>
<text x="559.8" y="209.48" font-size="6.6" text-anchor="start" fill="#111">17</text>
<text transform="translate(566.8,214.38) scale(0.87,1)" font-size="8.6" fill="#111">pH=0.5,    100%NO</text>
<polyline points="467,224.8 488.3,224.8" fill="none" stroke="#ff0000" stroke-width="1.35" stroke-linejoin="round"/>
<rect x="474.5" y="221.8" width="6" height="6" fill="#fff" stroke="#ff0000" stroke-width="1.25"/>
<polyline points="492.6,224.8 513.6,224.8" fill="none" stroke="#000000" stroke-width="1.35" stroke-linejoin="round"/>
<rect x="500.1" y="221.8" width="6" height="6" fill="#fff" stroke="#000000" stroke-width="1.25"/>
<polyline points="518.2,224.8 539.5,224.8" fill="none" stroke="#0000ff" stroke-width="1.35" stroke-linejoin="round"/>
<rect x="525.9" y="221.8" width="6" height="6" fill="#fff" stroke="#0000ff" stroke-width="1.25"/>
<text x="545.2" y="229.1" font-size="10.9" text-anchor="start" fill="#111">Cu</text>
<text x="559.8" y="224.9" font-size="6.6" text-anchor="start" fill="#111">19</text>
<text transform="translate(566.8,229.8) scale(0.92,1)" font-size="5.3" fill="#111">H-cell</text>
<text transform="translate(583.2,229.8) scale(0.87,1)" font-size="8.6" fill="#111">pH=7.0, 100%NO</text>
</svg>
</body></html>
